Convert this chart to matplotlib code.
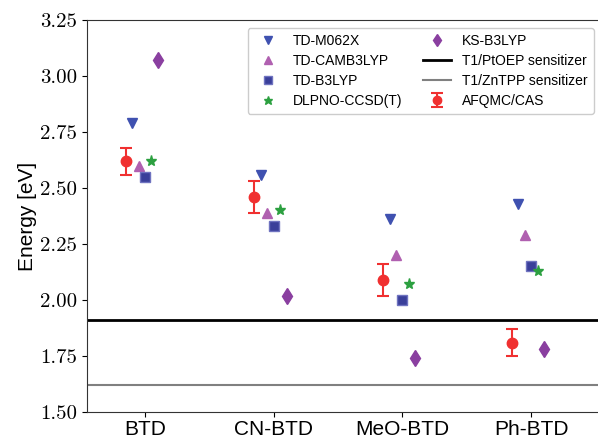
import matplotlib
matplotlib.use('Agg')
import matplotlib.pyplot as plt
from matplotlib.ticker import FormatStrFormatter
import numpy as np

molecules = ['BTD', 'CN-BTD', 'MeO-BTD', 'Ph-BTD']

afqmc = [2.62, 2.46, 2.09, 1.81]
afqmc_err = [0.06, 0.07, 0.07, 0.06]
td_m062x = [2.79, 2.56, 2.36, 2.43]
td_camb3lyp = [2.60, 2.39, 2.20, 2.29]
td_b3lyp = [2.55, 2.33, 2.00, 2.15]
dlpno = [2.62, 2.40, 2.07, 2.13]
ks_b3lyp = [3.07, 2.02, 1.74, 1.78]

ptoep = 1.91
zntpp = 1.62

sans = 'Liberation Sans'

fig = plt.figure(figsize=(5.98, 4.38), dpi=100)
ax = fig.add_axes([87/598, 26/438, (602-87)/598, 392/438])

x = np.arange(len(molecules))

h1 = ax.axhline(ptoep, color='black', lw=2, label='T1/PtOEP sensitizer', zorder=1)
h2 = ax.axhline(zntpp, color='#808080', lw=1.5, label='T1/ZnTPP sensitizer', zorder=1)

eb = ax.errorbar(x - 0.15, afqmc, yerr=afqmc_err, fmt='o', color='#f03030',
                 ms=7.5, capsize=4, elinewidth=1.5, capthick=1.5, label='AFQMC/CAS')
m1, = ax.plot(x - 0.10, td_m062x, 'v', color='#3f51b0', ms=7, ls='none', label='TD-M062X')
m2, = ax.plot(x - 0.05, td_camb3lyp, '^', color='#b060b0', ms=7, ls='none', label='TD-CAMB3LYP')
m3, = ax.plot(x, td_b3lyp, 's', color='#3a3f9a', mec='#6f73c0', ms=7, ls='none', label='TD-B3LYP')
m4, = ax.plot(x + 0.05, dlpno, '*', color='#2ca040', ms=8, ls='none', label='DLPNO-CCSD(T)')
m5, = ax.plot(x + 0.10, ks_b3lyp, 'd', color='#8a3fa0', ms=8, ls='none', label='KS-B3LYP')

handles = [m1, m2, m3, m4, m5, h1, h2, eb]
leg = ax.legend(handles, [h.get_label() for h in handles], ncol=2, loc='upper right',
                bbox_to_anchor=(0.984, 0.98), borderaxespad=0,
                prop={'family': sans, 'size': 10},
                framealpha=1, edgecolor='#cccccc', handlelength=2.0,
                labelspacing=0.42, columnspacing=1.5, markerscale=0.8,
                borderpad=0.45)

ax.set_xlim(-0.45, 3.55)
ax.set_ylim(1.50, 3.25)
ax.set_xticks(x)
ax.set_xticklabels(molecules, family=sans, fontsize=15)
ax.tick_params(axis='x', pad=2)
ax.set_yticks(np.arange(1.50, 3.26, 0.25))
ax.yaxis.set_major_formatter(FormatStrFormatter('%.2f'))
for t in ax.get_yticklabels():
    t.set_family('cmr10')
    t.set_fontsize(15)
ax.set_ylabel('Energy [eV]', family=sans, fontsize=15, labelpad=2)

for s in ax.spines.values():
    s.set_color('#333333')

fig.savefig('out.png', dpi=100)
